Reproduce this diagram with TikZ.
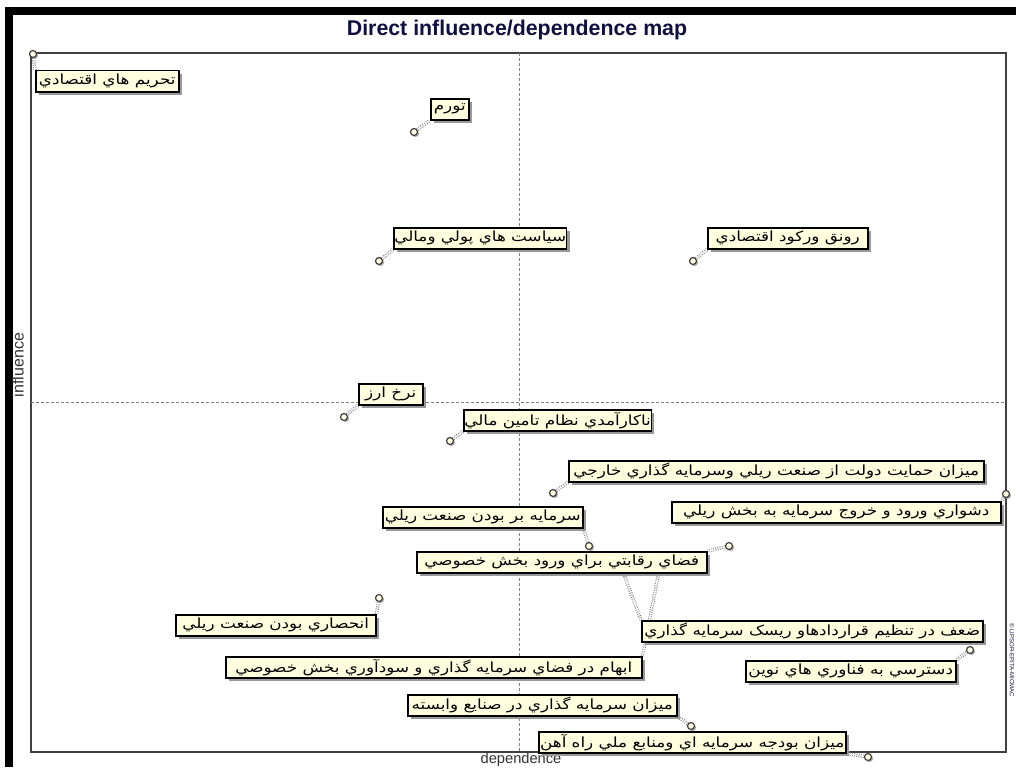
\documentclass[tikz,border=0pt]{standalone}
\usepackage{fontspec}
\setmainfont{Liberation Sans}
\newfontfamily\farsi[Script=Arabic, FakeStretch=1.2]{DejaVu Sans}
\TeXXeTstate=1
\usetikzlibrary{shadows}
\newcommand{\fa}[1]{{\farsi\beginR #1\endR}}

\newlength{\du}
\setlength{\du}{0.75pt}

\pgfdeclarelayer{bg}
\pgfsetlayers{bg,main}

\definecolor{boxcolor}{rgb}{1.000000, 1.000000, 0.880000}
\definecolor{framecolor}{rgb}{0.250000, 0.250000, 0.250000}
\definecolor{titlecolor}{rgb}{0.060000, 0.060000, 0.250000}

\tikzset{
  lbl/.style={draw=black, fill=boxcolor, line width=1.5\du, minimum height=21\du, inner sep=0.5\du,
    anchor=north west, font=\fontsize{10.5}{11}\selectfont,
    drop shadow={shadow xshift=3\du, shadow yshift=-3\du, fill=black!40, opacity=1}},
  pt/.style={circle, draw=black!75, fill=boxcolor, line width=1.2\du, minimum size=7\du, inner sep=0pt,
    drop shadow={shadow xshift=1.5\du, shadow yshift=-1.5\du, fill=black!35, opacity=1}},
  lnk/.style={draw=black!55, densely dotted, double=white, double distance=1.5\du, line width=0.9\du},
  axisline/.style={draw=black!50, dash pattern=on 3\du off 2\du, line width=1\du}
}

\begin{document}
\begin{tikzpicture}[x=\du, y=-\du]
\useasboundingbox (0,0) rectangle (1016,767);
% border of the screenshot
\fill[black] (5,7) rectangle (13,767);
\fill[black] (5,7) rectangle (1016,15);
\node[font=\fontsize{16}{18}\selectfont\bfseries, text=titlecolor] (title) at (517,30) {Direct influence/dependence map};
% axis texts
\node[font=\fontsize{12}{14}\selectfont, text=black!80, rotate=90] (ylab) at (18,365) {influence};
\node[font=\fontsize{11}{12}\selectfont, text=black!80, anchor=south, inner sep=0.5\du] (xlab) at (521,767) {dependence};
\node[font=\fontsize{4.5}{5}\selectfont, text=titlecolor, rotate=-90] (copy) at (1012,660) {\textcopyright{} LIPSOR-EPITA-MICMAC};
% variables
\node[pt] (p1) at (33,54) {};
\node[pt] (p2) at (414,132) {};
\node[pt] (p3) at (379,261) {};
\node[pt] (p4) at (693,261) {};
\node[pt] (p5) at (344,417) {};
\node[pt] (p6) at (450,441) {};
\node[pt] (p7) at (553,493) {};
\node[pt] (p8) at (1006,494) {};
\node[pt] (p9) at (589,546) {};
\node[pt] (p10) at (729,546) {};
\node[pt] (p11) at (379,598) {};
\node[pt] (p12) at (623,572) {};
\node[pt] (p13) at (660,566) {};
\node[pt] (p14) at (970,650) {};
\node[pt] (p15) at (691,726) {};
\node[pt] (p16) at (868,757) {};
% labels
\node[lbl, minimum width=143\du] (b1) at (35,70) {\fa{تحريم هاي اقتصادي}};
\node[lbl, minimum width=38\du] (b2) at (430,98) {\fa{تورم}};
\node[lbl, minimum width=168\du] (b3) at (393,227) {\fa{سياست هاي پولي ومالي}};
\node[lbl, minimum width=160\du] (b4) at (707,227) {\fa{رونق ورکود اقتصادي}};
\node[lbl, minimum width=64\du] (b5) at (358,383) {\fa{نرخ ارز}};
\node[lbl, minimum width=184\du] (b6) at (463,409) {\fa{ناکارآمدي نظام تامين مالي}};
\node[lbl, minimum width=415\du] (b7) at (568,460) {\fa{ميزان حمايت دولت از صنعت ريلي وسرمايه گذاري خارجي}};
\node[lbl, minimum width=329\du] (b8) at (671,501) {\fa{دشواري ورود و خروج سرمايه به بخش ريلي}};
\node[lbl, minimum width=200\du] (b9) at (382,506) {\fa{سرمايه بر بودن صنعت ريلي}};
\node[lbl, minimum width=290\du] (b10) at (416,551) {\fa{فضاي رقابتي براي ورود بخش خصوصي}};
\node[lbl, minimum width=200\du] (b11) at (175,614) {\fa{انحصاري بودن صنعت ريلي}};
\node[lbl, minimum width=341\du] (b12) at (641,620) {\fa{ضعف در تنظيم قراردادهاو ريسک سرمايه گذاري}};
\node[lbl, minimum width=416\du] (b13) at (225,656) {\fa{ابهام در فضاي سرمايه گذاري و سودآوري بخش خصوصي}};
\node[lbl, minimum width=210\du] (b14) at (745,660) {\fa{دسترسي به فناوري هاي نوين}};
\node[lbl, minimum width=269\du] (b15) at (407,694) {\fa{ميزان سرمايه گذاري در صنايع وابسته}};
\node[lbl, minimum width=307\du] (b16) at (538,731) {\fa{ميزان بودجه سرمايه اي ومنابع ملي راه آهن}};
\begin{pgfonlayer}{bg}
% frame and axes
\draw[framecolor, line width=2\du] (31,53) rectangle (1006,752);
\draw[axisline] (519,53) -- (519,752);
\draw[axisline] (31,402) -- (1006,402);
% links
\draw[lnk] (p1) -- (b1.north west);
\draw[lnk] (p2) -- (b2.south west);
\draw[lnk] (p3) -- (b3.south west);
\draw[lnk] (p4) -- (b4.south west);
\draw[lnk] (p5) -- (b5.south west);
\draw[lnk] (p6) -- (b6.south west);
\draw[lnk] (p7) -- (b7.south west);
\draw[lnk] (p8) -- (b8.north east);
\draw[lnk] (p9) -- (b9.south east);
\draw[lnk] (p10) -- (b10.north east);
\draw[lnk] (p11) -- (b11.north east);
\draw[lnk] (p12) -- (b12.north west);
\draw[lnk] (p13) -- (b13.north east);
\draw[lnk] (p14) -- (b14.north east);
\draw[lnk] (p15) -- (b15.south east);
\draw[lnk] (p16) -- (b16.south east);
\end{pgfonlayer}
\end{tikzpicture}
\end{document}
